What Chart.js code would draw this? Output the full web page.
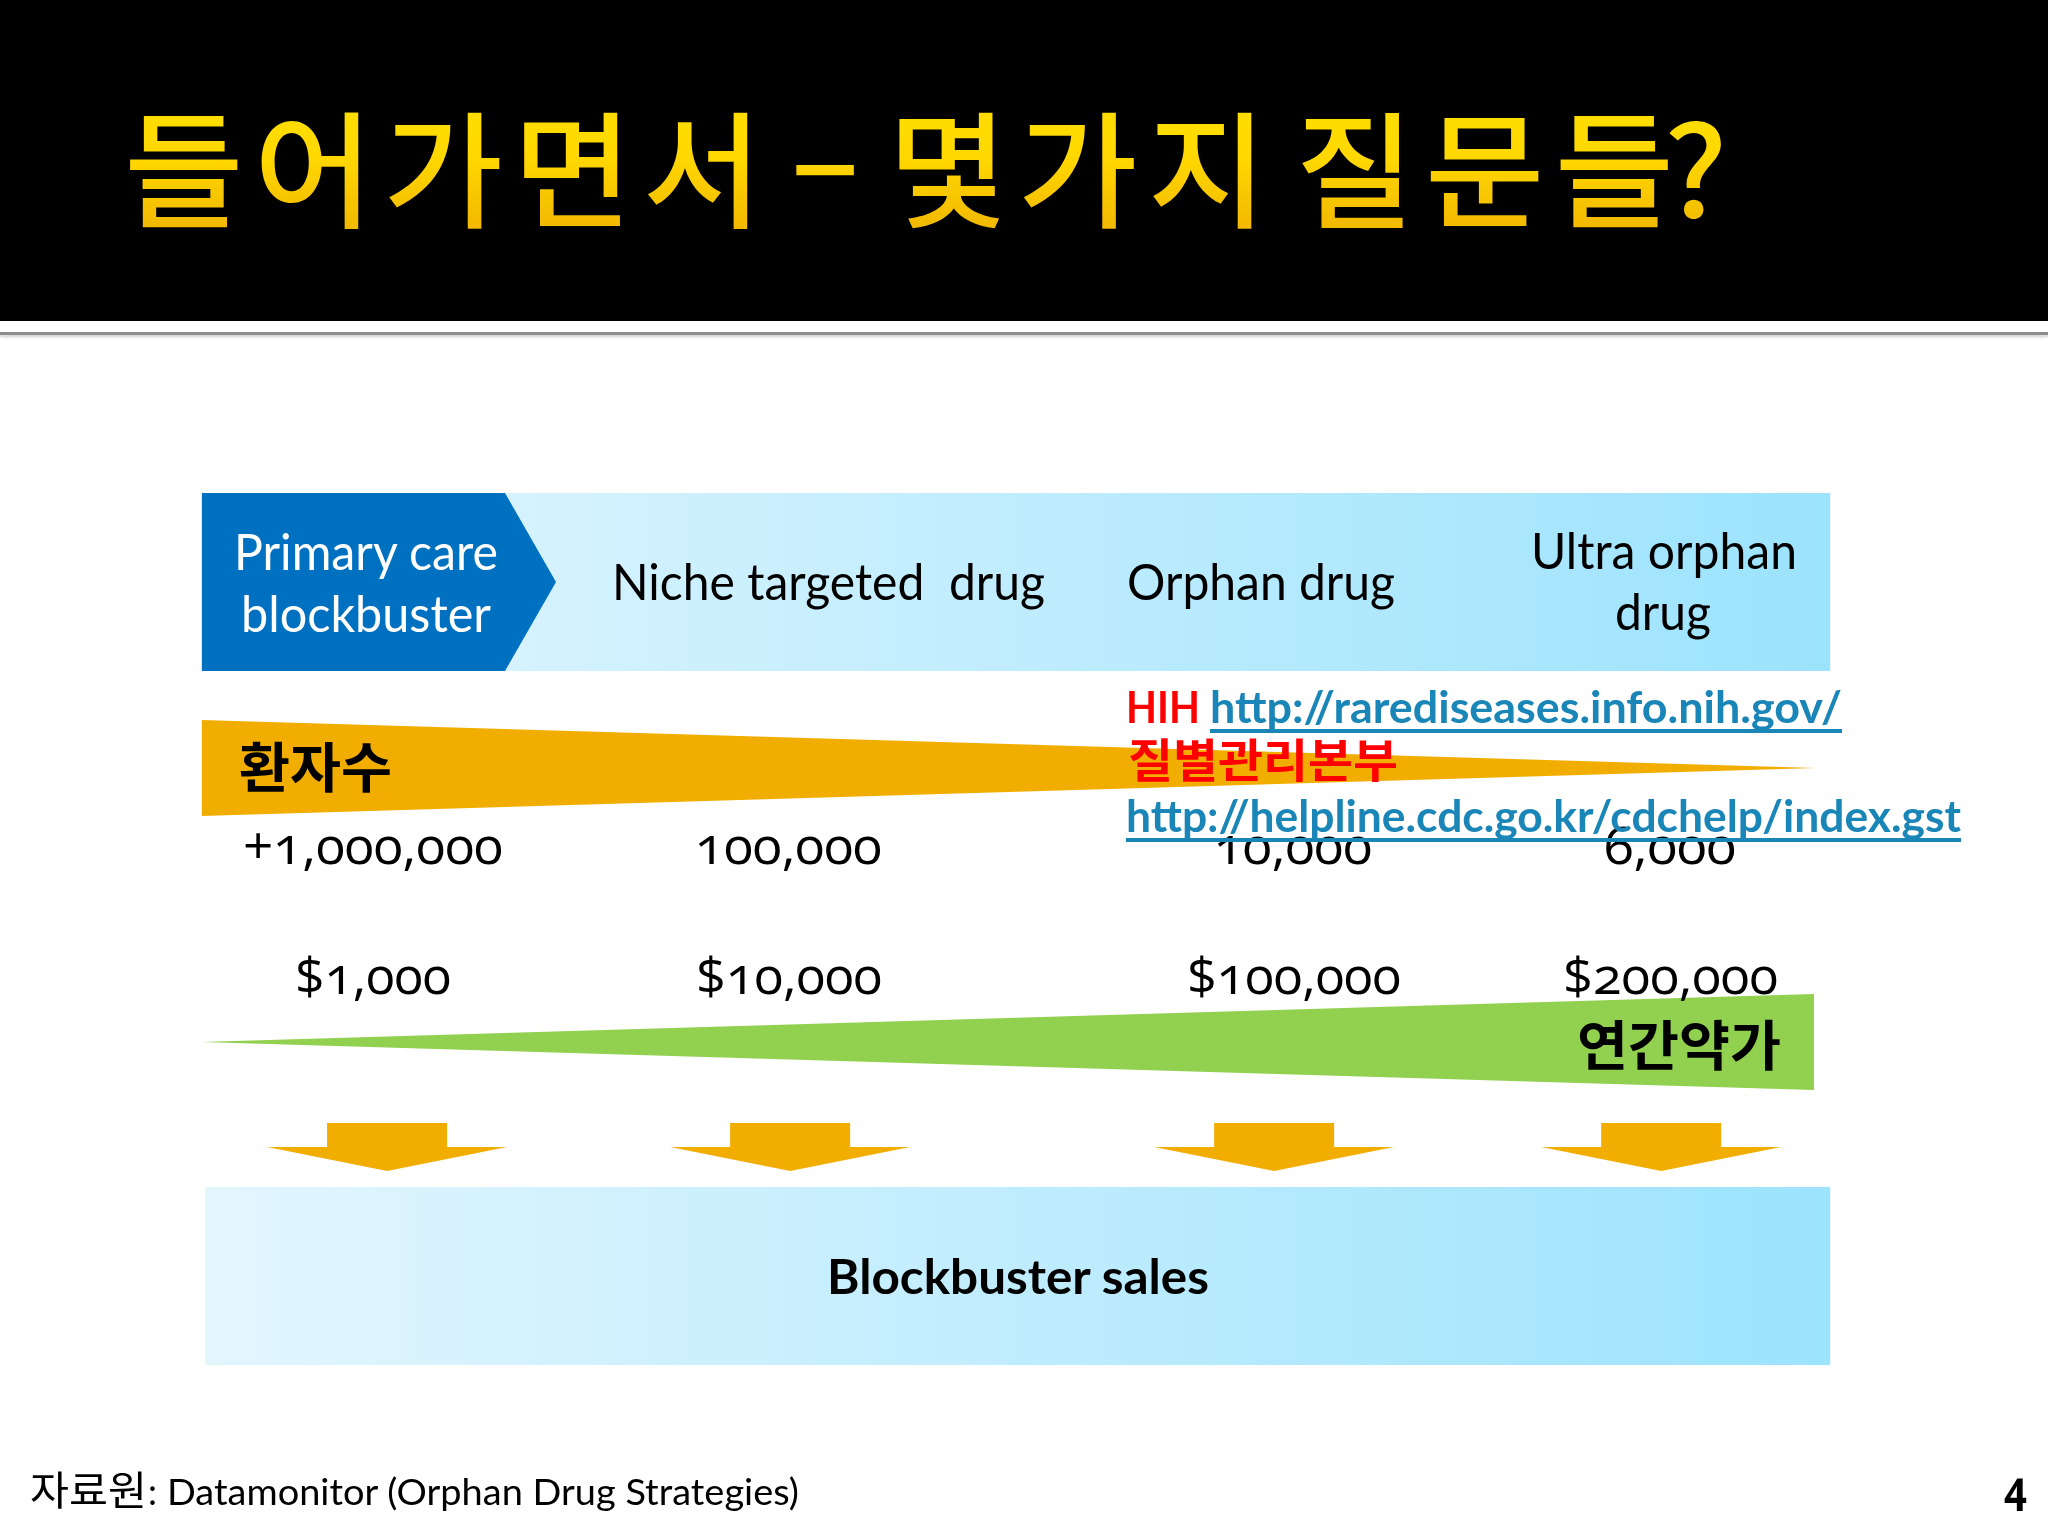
<!DOCTYPE html>
<html lang="ko">
<head>
<meta charset="utf-8">
<title>들어가면서 – 몇가지 질문들?</title>
<script src="https://cdn.jsdelivr.net/npm/chart.js@4"></script>
<style>
html,body{margin:0;padding:0;background:#fff;width:2048px;height:1536px;overflow:hidden}
#slide{position:relative;width:2048px;height:1536px;overflow:hidden;background:#fff}
#head{position:absolute;left:0;top:0;width:2048px;height:321px;background:#000}
#rule{position:absolute;left:0;top:332px;width:2048px;height:3px;background:#8c8c8c;box-shadow:0 2px 3px #ccc}
canvas{position:absolute;left:0;top:0}
#overlay{position:absolute;left:0;top:0;width:2048px;height:1536px}
.t{position:absolute;white-space:pre;transform-origin:0 0;color:#000;line-height:1.2}
.onum{font-feature-settings:"onum" 1;font-variant-numeric:oldstyle-nums}
.url{color:#1a86b8;text-decoration:underline;text-decoration-thickness:4px;text-underline-offset:6px;text-decoration-skip-ink:none}
.title{background:linear-gradient(180deg,#ffe000 0%,#ffd800 45%,#f0b400 100%);-webkit-background-clip:text;background-clip:text;color:transparent;letter-spacing:10px;word-spacing:-28px}
.tight{letter-spacing:-10px}
</style>
</head>
<body>
<div id="slide">
<div id="head"></div>
<div id="rule"></div>
<canvas id="c" width="2048" height="1536"></canvas>
<div id="overlay"></div>
</div>
<script>
// ---- data ----
const categories = ["Primary care\nblockbuster", "Niche targeted  drug", "Orphan drug", "Ultra orphan\ndrug"];
const patients = [1000000, 100000, 10000, 6000];
const prices = [1000, 10000, 100000, 200000];
// horizontal positions along the spectrum (0-100)
const patientLabelX = [10.5, 36.05, 67.0, 90.15];
const priceLabelX = [10.55, 36.07, 67.05, 90.15];
const arrowX = [11.39, 36.13, 65.84, 89.6];
// patient wedge (shrinks to the right), price wedge (grows to the right)
const patientWedgeX = [0, 99.1];
const patientWedgeTop = [26.03, 31.54];
const patientWedgeBottom = [37.04, 31.54];
const priceWedgeX = [0, 98.98];
const priceWedgeTop = [62.96, 57.45];
const priceWedgeBottom = [62.96, 68.46];
// header band, highlighted first category, sales band
const bandX = [0, 100];
const headerBandTop = [0, 0];
const headerBandBottom = [20.41, 20.41];
const primaryX = [0, 18.63, 21.76];
const primaryTop = [0, 0, 10.2];
const primaryBottom = [20.41, 20.41, 10.2];
const salesX = [0.21, 100];
const salesTop = [79.59, 79.59];
const salesBottom = [100, 100];
const arrowRow = [75, 75, 75, 75];

const zip = (xs, ys) => xs.map((x, i) => ({x, y: ys[i]}));
const bandFill = c => {
  const a = c.chart.chartArea;
  if (!a) return '#bfeafd';
  const g = c.chart.ctx.createLinearGradient(a.left, 0, a.right, 0);
  g.addColorStop(0, '#e3f6fe');
  g.addColorStop(1, '#9ce3fd');
  return g;
};
const area = (data, fill, bg) => ({type:'line', data, fill, backgroundColor:bg, borderWidth:0, pointRadius:0, tension:0});

// arrow glyph used as point style
const arrowImg = document.createElement('canvas');
arrowImg.width = 240; arrowImg.height = 48;
(() => {
  const g = arrowImg.getContext('2d');
  g.fillStyle = '#f2ae00';
  g.beginPath();
  g.moveTo(60,0); g.lineTo(180,0); g.lineTo(180,24); g.lineTo(240,24);
  g.lineTo(120,48); g.lineTo(0,24); g.lineTo(60,24); g.closePath(); g.fill();
})();

const chart = new Chart(document.getElementById('c'), {
  data: {
    datasets: [
      area(zip(primaryX, primaryTop), '+1', '#0070c0'),
      area(zip(primaryX, primaryBottom), false, 'transparent'),
      area(zip(bandX, headerBandTop), '+1', bandFill),
      area(zip(bandX, headerBandBottom), false, 'transparent'),
      area(zip(patientWedgeX, patientWedgeTop), '+1', '#f2ae00'),
      area(zip(patientWedgeX, patientWedgeBottom), false, 'transparent'),
      area(zip(priceWedgeX, priceWedgeTop), '+1', '#92d050'),
      area(zip(priceWedgeX, priceWedgeBottom), false, 'transparent'),
      area(zip(salesX, salesTop), '+1', bandFill),
      area(zip(salesX, salesBottom), false, 'transparent'),
      {type:'scatter', data: zip(arrowX, arrowRow), pointStyle: arrowImg, pointRadius: 24, borderWidth: 0, showLine: false}
    ]
  },
  options: {
    responsive: false,
    animation: false,
    devicePixelRatio: 1,
    layout: {padding: {left: 201.5, right: 217.4, top: 493, bottom: 171}},
    plugins: {legend: {display: false}, tooltip: {enabled: false}, title: {display: false}},
    scales: {
      x: {type: 'linear', display: false, min: 0, max: 100},
      y: {type: 'linear', display: false, min: 0, max: 100, reverse: true}
    }
  }
});

// ---- real text, anchored through the chart's scales ----
const overlay = document.getElementById('overlay');
const sx = v => chart.scales.x.getPixelForValue(v);
function put(text, o) {
  const s = document.createElement('span');
  s.className = 't ' + (o.cls || '');
  if (o.tightChar !== undefined) {
    const i = o.tightChar;
    s.append(text.slice(0, i));
    const inner = document.createElement('span');
    inner.className = 'tight';
    inner.textContent = text[i];
    s.append(inner, text.slice(i + 1));
  } else {
    s.textContent = text;
  }
  s.style.fontFamily = o.family || 'Lato';
  s.style.fontSize = o.size + 'px';
  s.style.fontWeight = o.weight || 400;
  if (o.color) s.style.color = o.color;
  overlay.appendChild(s);
  const w = s.getBoundingClientRect().width;
  const k = o.width ? o.width / w : 1;
  const fw = w * k;
  const left = o.left !== undefined ? o.left : o.cx - fw / 2;
  const mark = document.createElement('span');
  mark.style.cssText = 'display:inline-block;width:0;height:0';
  s.appendChild(mark);
  s.style.left = '0px'; s.style.top = '0px';
  const b = mark.getBoundingClientRect().bottom;
  s.removeChild(mark);
  s.style.left = left + 'px';
  s.style.top = (o.base - b) + 'px';
  s.style.transform = `scaleX(${k})`;
}
const CJK = '"Noto Sans CJK KR"';
// title
const titleText = '들어가면서 – 몇가지 질문들?';
put(titleText, {left:124, base:218, size:126, family:CJK, weight:500, width:1614, cls:'title', tightChar:titleText.length - 2});
// categories
const catLines = categories.map(c => c.split('\n'));
put(catLines[0][0], {cx:366, base:570, size:50, width:264, color:'#fff'});
put(catLines[0][1], {cx:366, base:632, size:50, width:250, color:'#fff'});
put(catLines[1][0], {left:612, base:600, size:50, width:433});
put(catLines[2][0], {left:1127, base:600, size:50, width:268});
put(catLines[3][0], {left:1531, base:569, size:50, width:266});
put(catLines[3][1], {left:1615, base:630, size:50, width:96});
// wedge names
put('환자수', {left:239, base:788, size:54, family:CJK, weight:700, width:153});
put('연간약가', {left:1577, base:1066, size:54, family:CJK, weight:700, width:204});
// values
const patientWidths = [260, 187, 158, 132];
patients.forEach((v, i) => put((i === 0 ? '+' : '') + v.toLocaleString('en-US'),
  {cx:sx(patientLabelX[i]), base:864, size:52, weight:500, cls:'onum', family:'Open Sans', width:patientWidths[i]}));
const priceWidths = [156, 186, 214, 215];
prices.forEach((v, i) => put('$' + v.toLocaleString('en-US'),
  {cx:sx(priceLabelX[i]), base:994, size:52, weight:500, cls:'onum', family:'Open Sans', width:priceWidths[i]}));
// links
put('HIH', {left:1126, base:723, size:44, weight:700, color:'#ff0000', width:74});
put('http://rarediseases.info.nih.gov/', {left:1210, base:723, size:44, weight:700, cls:'url', width:632});
put('질별관리본부', {left:1128, base:777, size:46, family:CJK, weight:700, color:'#ff0000', width:270});
put('http://helpline.cdc.go.kr/cdchelp/index.gst', {left:1126, base:832, size:44, weight:700, cls:'url', width:835});
// sales band
put('Blockbuster sales', {left:827, base:1294, size:48, weight:700, width:382});
// footer
put('자료원', {left:30, base:1505, size:40, family:CJK, width:117});
put(':', {left:148, base:1505, size:36});
put('Datamonitor (Orphan Drug Strategies)', {left:167, base:1505, size:36, width:632});
put('4', {left:2004, base:1503, size:44, weight:700, cls:'onum', family:'Open Sans', width:23});
</script>
</body>
</html>
